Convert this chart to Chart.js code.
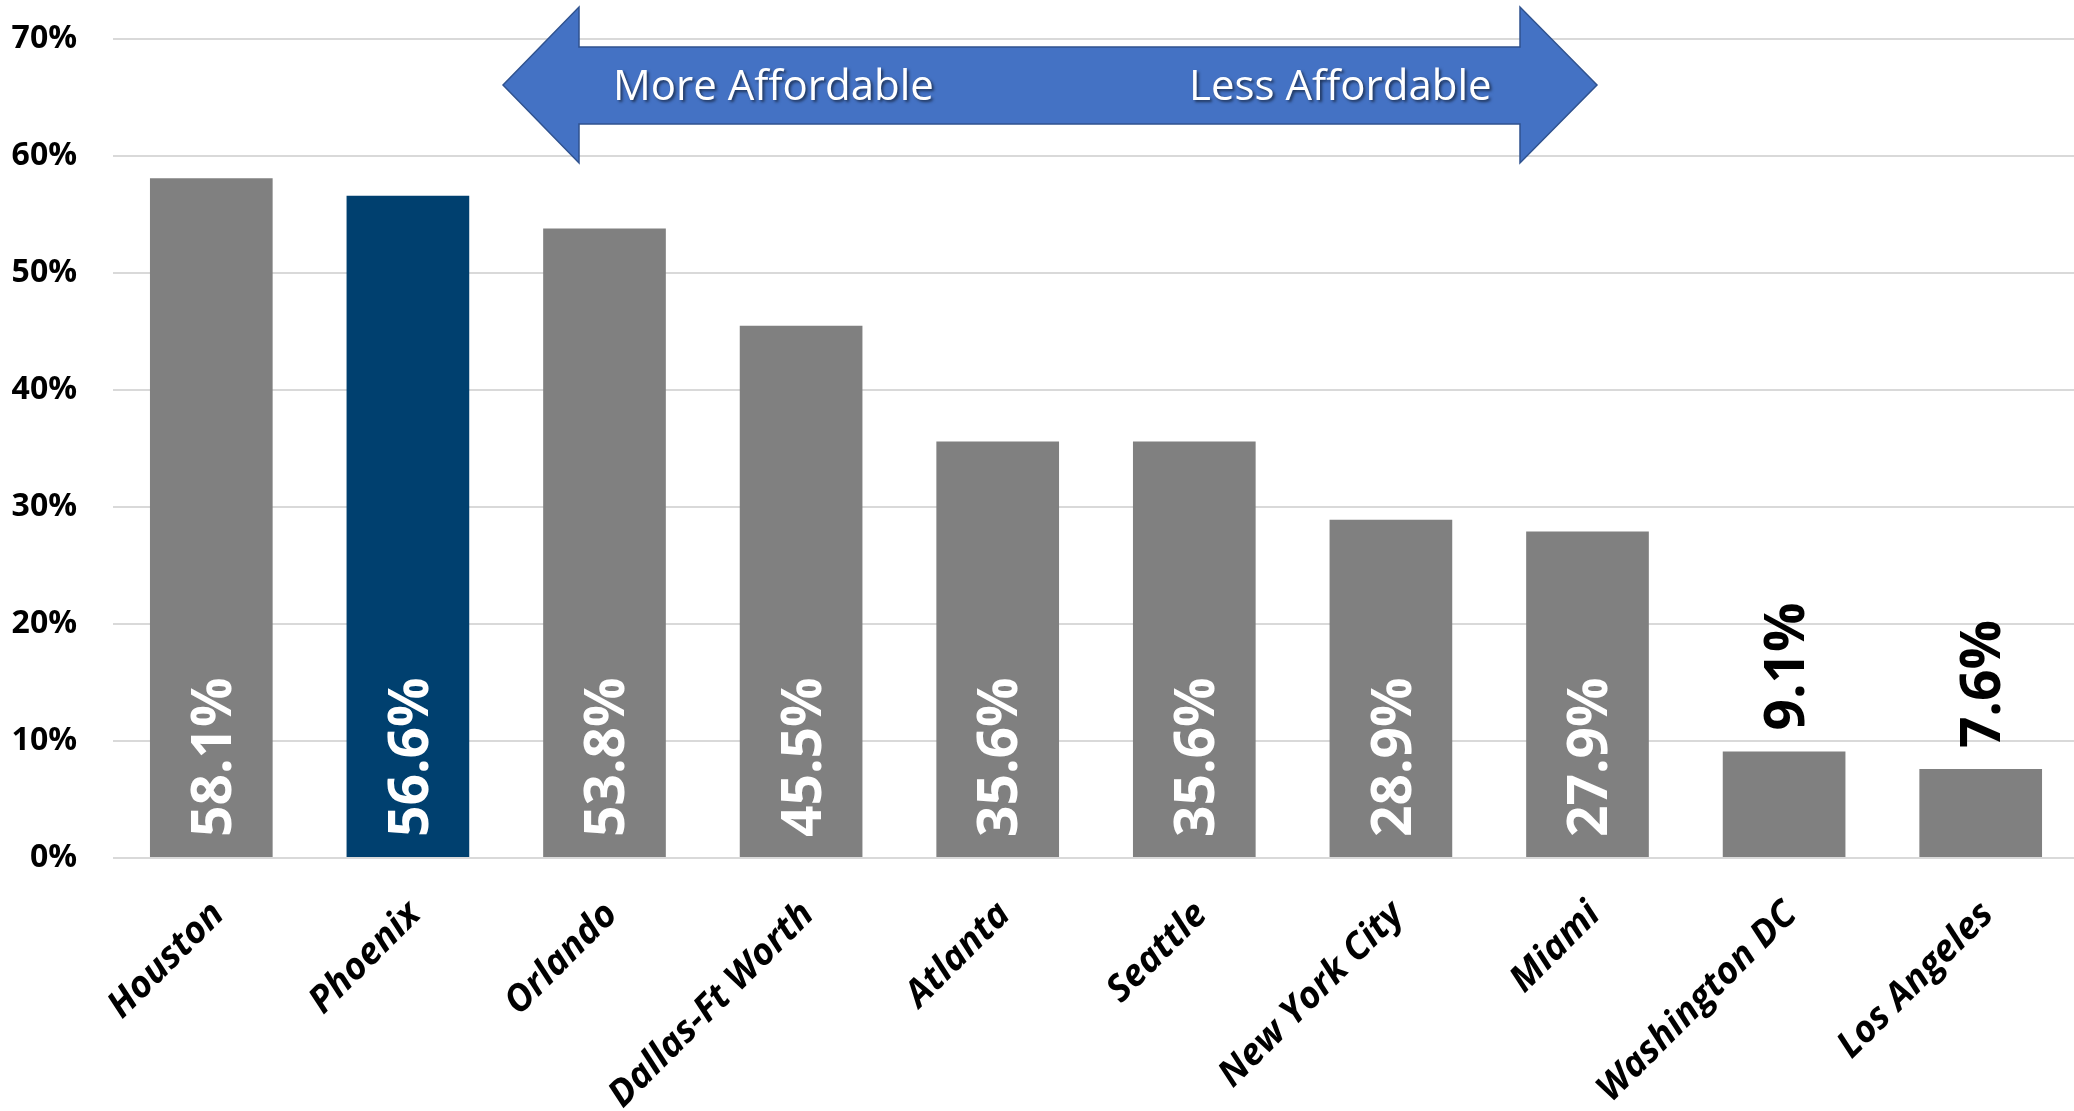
<!DOCTYPE html>
<html>
<head>
<meta charset="utf-8">
<script src="https://cdn.jsdelivr.net/npm/chart.js@4.4.1/dist/chart.umd.min.js"></script>
<style>
  html, body { margin: 0; padding: 0; background: #fff; overflow: hidden; }
  #wrap { position: absolute; left: 0; top: 0; width: 2079px; height: 1111px; }
</style>
</head>
<body>
<div id="wrap"><canvas id="affordChart" width="2079" height="1111"></canvas></div>
<script>
// cities, left to right
const cities = ['Houston', 'Phoenix', 'Orlando', 'Dallas-Ft Worth', 'Atlanta', 'Seattle',
                'New York City', 'Miami', 'Washington DC', 'Los Angeles'];
// share of homes affordable (%)
const shares = [58.1, 56.6, 53.8, 45.5, 35.6, 35.6, 28.9, 27.9, 9.1, 7.6];
const yTicks = [0, 10, 20, 30, 40, 50, 60, 70];
const highlightCity = 'Phoenix';
const arrowLeftText = 'More Affordable';
const arrowRightText = 'Less Affordable';

const FONT = "'Open Sans', 'Noto Sans', sans-serif";
const GRAY = '#808080';
const NAVY = '#00406F';

// rotated value labels: inside the base for tall bars, above the bar for short ones
const valueLabels = {
    id: 'valueLabels',
    afterDatasetsDraw(chart) {
        const ctx = chart.ctx;
        const meta = chart.getDatasetMeta(0);
        ctx.save();
        ctx.font = `bold 55px ${FONT}`;
        ctx.textAlign = 'left';
        ctx.textBaseline = 'middle';
        meta.data.forEach((bar, i) => {
            const v = shares[i];
            const inside = v >= 15;
            const y0 = inside ? bar.base - 20 : bar.y - 21;
            ctx.save();
            ctx.translate(bar.x + 4, y0);
            ctx.rotate(-Math.PI / 2);
            ctx.fillStyle = inside ? '#ffffff' : '#000000';
            ctx.fillText(v.toFixed(1) + '%', 0, 0);
            ctx.restore();
        });
        ctx.restore();
    }
};

// double headed arrow across the top
const affordArrow = {
    id: 'affordArrow',
    afterDraw(chart) {
        const ctx = chart.ctx;
        const tipL = 503, backL = 579, backR = 1520, tipR = 1597;
        const midY = 85, headTop = 7, headBot = 163, shaftTop = 47, shaftBot = 124;
        ctx.save();
        ctx.beginPath();
        ctx.moveTo(tipL, midY);
        ctx.lineTo(backL, headTop);
        ctx.lineTo(backL, shaftTop);
        ctx.lineTo(backR, shaftTop);
        ctx.lineTo(backR, headTop);
        ctx.lineTo(tipR, midY);
        ctx.lineTo(backR, headBot);
        ctx.lineTo(backR, shaftBot);
        ctx.lineTo(backL, shaftBot);
        ctx.lineTo(backL, headBot);
        ctx.closePath();
        ctx.fillStyle = '#4472C4';
        ctx.fill();
        ctx.lineWidth = 1.5;
        ctx.strokeStyle = '#2F528F';
        ctx.stroke();

        ctx.font = `42px ${FONT}`;
        ctx.textAlign = 'left';
        ctx.textBaseline = 'alphabetic';
        ctx.fillStyle = '#ffffff';
        ctx.shadowColor = 'rgba(0,0,0,0.55)';
        ctx.shadowOffsetX = 2;
        ctx.shadowOffsetY = 2;
        ctx.shadowBlur = 3;
        ctx.fillText(arrowLeftText, 613, 100);
        ctx.fillText(arrowRightText, 1189, 100);
        ctx.restore();
    }
};

const ctx = document.getElementById('affordChart').getContext('2d');
new Chart(ctx, {
    type: 'bar',
    data: {
        labels: cities,
        datasets: [{
            data: shares,
            backgroundColor: cities.map(c => c === highlightCity ? NAVY : GRAY),
            borderWidth: 0,
            barPercentage: 0.624,
            categoryPercentage: 1.0
        }]
    },
    options: {
        responsive: false,
        animation: false,
        devicePixelRatio: 1,
        layout: { padding: { top: 39, left: 0, right: 0, bottom: 0 } },
        plugins: {
            legend: { display: false },
            tooltip: { enabled: false }
        },
        scales: {
            x: {
                grid: { display: false },
                border: { display: false },
                ticks: {
                    autoSkip: false,
                    minRotation: 45,
                    maxRotation: 45,
                    padding: 27,
                    labelOffset: 7,
                    color: '#000',
                    font: { family: FONT, size: 37, weight: 'bold', style: 'italic' }
                },
                afterFit(scale) { scale.height = 253; }
            },
            y: {
                min: 0,
                max: 70,
                afterBuildTicks(scale) { scale.ticks = yTicks.map(v => ({ value: v })); },
                grid: { color: '#D9D9D9', lineWidth: 2, drawTicks: false },
                border: { display: false },
                ticks: {
                    padding: 36,
                    color: '#000',
                    font: { family: FONT, size: 32, weight: 'bold' },
                    callback: v => v + '%'
                },
                afterFit(scale) {
                    scale.width = 113;
                    // the label padding should not push the plot area down
                    scale.paddingTop = 0;
                    scale.paddingBottom = 0;
                }
            }
        }
    },
    plugins: [valueLabels, affordArrow]
});
</script>
</body>
</html>
